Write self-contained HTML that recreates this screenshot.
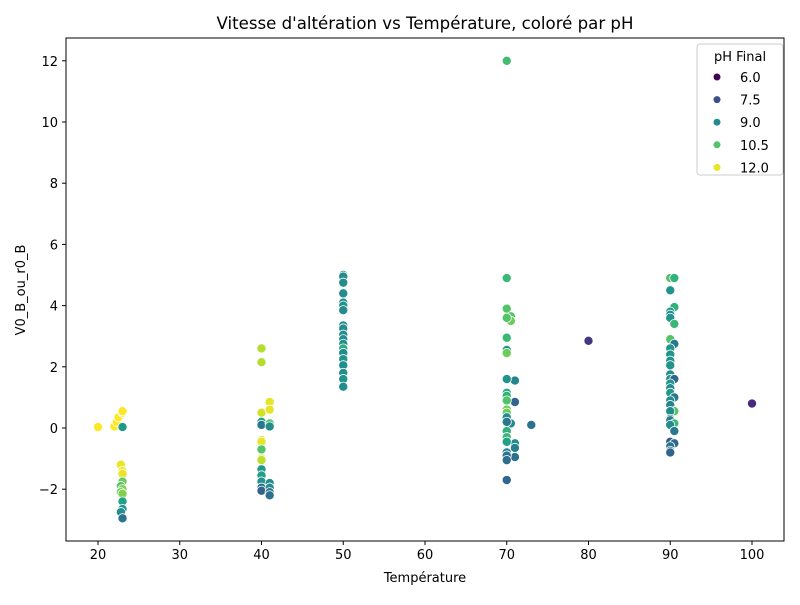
<!DOCTYPE html>
<html><head><meta charset="utf-8"><style>
body{margin:0;background:#fff;}
svg text{font-family:"DejaVu Sans","Liberation Sans",sans-serif;fill:#000;}
</style></head><body>
<svg id="chart" width="800" height="600">
<rect width="800" height="600" fill="#fff"/>
<text x="425" y="29" font-size="16.6" text-anchor="middle">Vitesse d'altération vs Température, coloré par pH</text>
<g id="grid"></g>
<g id="pts"></g>
<rect x="66" y="38" width="718" height="503" fill="none" stroke="#000" stroke-width="1"/>
<text x="425" y="582" font-size="13" text-anchor="middle">Température</text>
<text transform="translate(25,290) rotate(-90)" font-size="13" text-anchor="middle">V0_B_ou_r0_B</text>
<g id="legend"></g>
</svg>
<script>
const temps=[20,22,22.3,22.5,23,23,23,22.8,23,23,23,22.8,23,22.8,23,23,23,22.8,23,
40,40,40,41,41,40,40,41,41,40,40,40,40,40,40,40,40,40,40,41,41,41,41,
50,50,50,50,50,50,50,50,50,50,50,50,50,50,50,50,50,50,50,
70,70,70,70.5,70.5,70,70,70,70,71,70,70,70,71,70,70,70,70,70.5,70,70,70,71,71,70,70,71,70,70,70,73,80,100,
90,90.5,90,90.5,90,90,90,90.5,90,90.5,90,90,90,90,90,90,90.5,90,90,90,90.5,90,90,90.5,90,90,90,90.5,90,90.5,90,90.5,90,90,90];
const rates=[0.03,0.05,0.2,0.35,0.5,0.55,0.03,-1.2,-1.4,-1.5,-1.75,-1.9,-2.0,-2.1,-2.15,-2.4,-2.65,-2.75,-2.95,
2.6,2.15,0.5,0.85,0.6,0.2,0.1,0.15,0.05,-0.4,-0.45,-0.7,-1.0,-1.05,-1.35,-1.55,-1.75,-1.95,-2.05,-1.8,-1.95,-2.1,-2.2,
5.0,4.95,4.75,4.4,4.1,4.0,3.85,3.35,3.25,3.05,2.9,2.75,2.6,2.45,2.25,2.05,1.8,1.6,1.35,
12.0,4.9,3.9,3.65,3.5,3.6,2.95,2.55,2.45,1.55,1.6,1.15,1.05,0.85,0.9,0.6,0.5,0.35,0.15,0.2,-0.1,-0.3,-0.5,-0.65,-0.45,-0.8,-0.95,-0.9,-1.05,-1.7,0.1,2.85,0.8,
4.9,4.9,4.5,3.95,3.8,3.7,3.6,3.4,2.9,2.75,2.6,2.4,2.2,2.05,1.75,1.6,1.6,1.45,1.3,1.15,1.0,0.9,0.75,0.55,0.55,0.3,0.25,0.15,0.1,-0.1,-0.45,-0.5,-0.6,-0.75,-0.8];
const phs=[12.3,12.2,12.3,12.2,12.2,12.3,9.3,12,12.2,12,10.8,10.5,11,10.8,11,9.5,9.2,9,8.3,
11.5,11.5,11.8,12,12,9.5,8.5,10.5,9,11.8,12,10.5,11.8,11.6,9.3,9.5,9.2,8.2,8,9,9,8.5,8.3,
9,9,9,9,9,9.2,9,9,9,9,9,9,9.8,9,9.2,9,9,9.2,9,
10.3,10.2,10.5,10.5,10.8,10.5,10.2,9.3,10.8,8.8,9.2,9.8,10,8,10.5,10.8,10.8,9,9,8.5,10,10.2,9,8.7,9.5,8.7,8.3,8.3,8.2,8,8.3,7,6.8,
10.5,10,9.2,10,9.3,9,9.2,10.2,10.5,8.5,9.2,9.2,9.2,9.2,9,9,8,9.2,9,9.3,8.5,9,8.8,10.5,9,9,8.6,10.2,9,8.5,7.8,8,8.5,8.2,8];
const xTicks=[20,30,40,50,60,70,80,90,100];
const yTicks=[-2,0,2,4,6,8,10,12];
const legendVals=[6.0,7.5,9.0,10.5,12.0];
const xs=v=>98+(v-20)*8.175;
const ys=v=>428-v*30.6;
const vir=[[68,1,84],[72,40,120],[62,74,137],[49,104,142],[38,130,142],[31,158,137],[53,183,121],[109,205,89],[180,222,44],[253,231,37]];
function col(p){let t=Math.max(0,Math.min(1,(p-6)/6.2))*(vir.length-1);let i=Math.min(vir.length-2,Math.floor(t)),f=t-i;
const c=vir[i].map((a,k)=>Math.round(a+(vir[i+1][k]-a)*f));return `rgb(${c})`;}
const NS='http://www.w3.org/2000/svg';
function mk(tag,attrs,parent){const e=document.createElementNS(NS,tag);for(const k in attrs)e.setAttribute(k,attrs[k]);parent.appendChild(e);return e;}
const g=document.getElementById('grid');
xTicks.forEach(v=>{const x=xs(v);
const l=mk('line',{x1:x,x2:x,y1:541,y2:545,stroke:'#000'},g);


const t=mk('text',{x:x,y:559,'font-size':13,'text-anchor':'middle'},g);t.textContent=v;

});
yTicks.forEach(v=>{const y=ys(v);
const l=mk('line',{x1:62,x2:66,y1:y,y2:y,stroke:'#000'},g);


const t=mk('text',{x:58,y:y+5,'font-size':13,'text-anchor':'end'},g);t.textContent=v<0?'\u2212'+(-v):v;

});
const pg=document.getElementById('pts');
temps.forEach((tv,i)=>{const c=mk('circle',{cx:xs(tv),cy:ys(rates[i]),r:4.6,fill:col(phs[i]),stroke:'#fff','stroke-width':0.8},pg);

});
const lg=document.getElementById('legend');
mk('rect',{x:697,y:44,width:86,height:131,rx:3,fill:'#fff','fill-opacity':0.8,stroke:'#ccc'},lg);
const lt=mk('text',{x:740,y:61,'font-size':13,'text-anchor':'middle'},lg);lt.textContent='pH Final';


legendVals.forEach((v,i)=>{const y=77+i*22.6;
const c=mk('circle',{cx:717,cy:y,r:3.5,fill:col(v)},lg);


const t=mk('text',{x:740,y:y+5,'font-size':13,'text-anchor':'start'},lg);t.textContent=v.toFixed(1);

});
</script>
</body></html>
